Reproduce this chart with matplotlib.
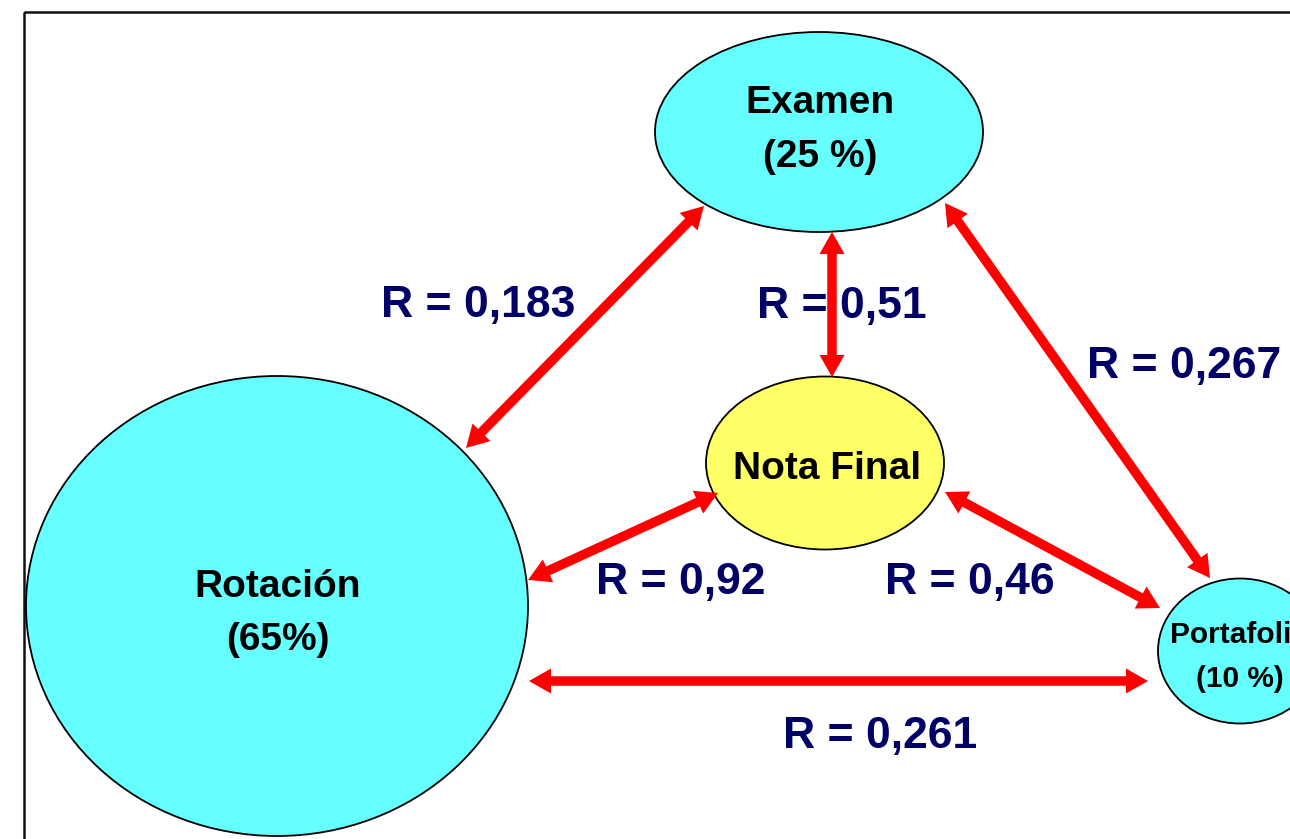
import matplotlib
matplotlib.use("Agg")
import matplotlib.pyplot as plt
from matplotlib.patches import Ellipse, FancyArrow, Rectangle
import math

# ---- data ----
node_names = ["Examen", "Nota Final", "Rotación", "Portafolio"]
node_weights = ["(25 %)", None, "(65%)", "(10 %)"]
correlations = [0.183, 0.51, 0.267, 0.92, 0.46, 0.261]
pairs = [("Rotación", "Examen"), ("Examen", "Nota Final"), ("Examen", "Portafolio"),
         ("Rotación", "Nota Final"), ("Nota Final", "Portafolio"), ("Rotación", "Portafolio")]

# ---- layout (pixel coordinates) ----
W, H = 1290, 839
node_geom = {  # center x, center y, width, height, fill
    "Examen": (819, 132, 328, 200, "#66FFFF"),
    "Nota Final": (825, 463, 238, 173, "#FFFF66"),
    "Rotación": (277, 606, 502, 460, "#66FFFF"),
    "Portafolio": (1240, 651, 164, 145, "#66FFFF"),
}
node_text = {  # x, baseline line1, baseline line2, fontsize
    "Examen": (820, 113, 167, 28),
    "Nota Final": (827, 479, None, 28),
    "Rotación": (278, 597, 650, 28),
    "Portafolio": (1240, 643, 687, 21.5),
}
arrow_ends = [
    ((466, 448), (704, 206)),
    ((832, 232), (832, 377)),
    ((945, 203), (1210, 578)),
    ((528, 580), (718, 493)),
    ((945, 492), (1160, 608)),
    ((529, 681), (1148, 681)),
]
label_pos = [(478, 317), (842, 318), (1184, 378), (681, 594), (970, 594), (880, 748)]

fig = plt.figure(figsize=(W / 100, H / 100), dpi=100)
ax = fig.add_axes([0, 0, 1, 1])
ax.set_xlim(0, W)
ax.set_ylim(H, 0)
ax.axis("off")

font = "Liberation Sans"

# frame
ax.add_patch(Rectangle((24, 12), 1400, 1000, fill=False, ec="#111111", lw=1.8, zorder=0))

# nodes
for name, wt in zip(node_names, node_weights):
    cx, cy, w, h, fc = node_geom[name]
    ax.add_patch(Ellipse((cx, cy), w, h, fc=fc, ec="black", lw=1.3, zorder=1))
    tx, b1, b2, fs = node_text[name]
    ax.text(tx, b1, name, ha="center", va="baseline", fontsize=fs, fontweight="bold",
            family=font, color="black", zorder=5)
    if wt is not None:
        ax.text(tx, b2, wt, ha="center", va="baseline", fontsize=fs, fontweight="bold",
                family=font, color="black", zorder=5)

# correlation labels
for r, (lx, ly) in zip(correlations, label_pos):
    txt = "R = " + f"{r:.3f}".rstrip("0").replace(".", ",")
    ax.text(lx, ly, txt, ha="center", va="baseline", fontsize=32, fontweight="bold",
            family=font, color="#000066", zorder=2)

# double-headed arrows: one shaft line + two triangular heads
HEAD_L, HEAD_W, SHAFT_PX = 22, 25, 9.5
def double_arrow(p0, p1):
    dx, dy = p1[0] - p0[0], p1[1] - p0[1]
    L = math.hypot(dx, dy)
    ux, uy = dx / L, dy / L
    inset = HEAD_L * 0.6
    ax.plot([p0[0] + ux * inset, p1[0] - ux * inset],
            [p0[1] + uy * inset, p1[1] - uy * inset],
            color="#FF0000", lw=SHAFT_PX * 72 / 100, solid_capstyle="butt", zorder=3)
    for (ex, ey), s in ((p1, 1), (p0, -1)):
        bx, by = ex - s * ux * HEAD_L, ey - s * uy * HEAD_L
        ax.add_patch(FancyArrow(bx, by, ex - bx, ey - by, width=0.01, head_width=HEAD_W,
                                head_length=HEAD_L, length_includes_head=True,
                                fc="#FF0000", ec="none", lw=0, zorder=3))

for p0, p1 in arrow_ends:
    double_arrow(p0, p1)

fig.savefig("out.png", dpi=100)
